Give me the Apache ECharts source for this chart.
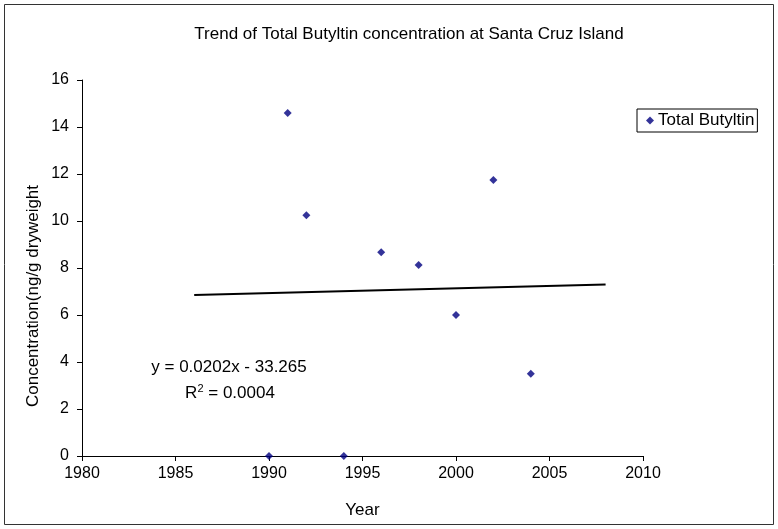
<!DOCTYPE html>
<html>
<head>
<meta charset="utf-8">
<script src="https://cdn.jsdelivr.net/npm/echarts@6/dist/echarts.min.js"></script>
<style>html,body{margin:0;padding:0;background:#fff}#c{width:778px;height:529px}</style>
</head>
<body>
<div id="c"></div>
<script>
const years = [1990, 1991, 1992, 1994, 1996, 1998, 2000, 2002, 2004];
const butyltin = [0, 14.6, 10.24, 0, 8.67, 8.13, 6.0, 11.74, 3.5];
const trendYears = [1986, 2008];
const trendValues = [6.85, 7.30];
const titleText = 'Trend of Total Butyltin concentration at Santa Cruz Island';
const seriesName = 'Total Butyltin';
const xName = 'Year';
const yName = 'Concentration(ng/g dryweight';
const eqLine1 = 'y = 0.0202x - 33.265';

const F = '"Liberation Sans", Arial, sans-serif';
const chart = echarts.init(document.getElementById('c'), null, {renderer: 'canvas'});
chart.setOption({
  animation: false,
  backgroundColor: '#fff',
  title: {
    text: titleText, left: 404, top: 21, textAlign: 'center',
    textStyle: {fontFamily: F, fontSize: 17, fontWeight: 'normal', color: '#000'}
  },
  grid: {left: 82, right: 135, top: 80, bottom: 73, containLabel: false},
  legend: {
    data: [{name: seriesName, icon: 'diamond'}],
    left: 637, top: 109,
    itemWidth: 8, itemHeight: 8, itemGap: 5,
    borderColor: '#000', borderWidth: 1, padding: [3, 3, 3, 9],
    textStyle: {fontFamily: F, fontSize: 17, color: '#000', padding: [0, 0, 0, -1]}
  },
  xAxis: {
    type: 'value', min: 1980, max: 2010, interval: 5,
    name: xName, nameLocation: 'middle', nameGap: 46,
    nameTextStyle: {fontFamily: F, fontSize: 17, color: '#000'},
    axisLine: {lineStyle: {color: '#000', width: 1}},
    axisTick: {length: 5, lineStyle: {color: '#000'}},
    axisLabel: {fontFamily: F, fontSize: 16, color: '#000', margin: 10,
      formatter: v => String(v)},
    splitLine: {show: false}
  },
  yAxis: {
    type: 'value', min: 0, max: 16, interval: 2,
    axisLine: {show: true, lineStyle: {color: '#000', width: 1}},
    axisTick: {show: true, length: 5, lineStyle: {color: '#000'}},
    axisLabel: {fontFamily: F, fontSize: 16, color: '#000', margin: 13},
    splitLine: {show: false}
  },
  series: [
    {
      name: seriesName, type: 'scatter', symbol: 'diamond', symbolSize: 8,
      itemStyle: {color: '#000080'},
      data: years.map((y, i) => [y, butyltin[i]]), z: 3
    },
    {
      name: 'trend', type: 'line', symbol: 'none', silent: true,
      lineStyle: {color: '#000', width: 2},
      data: trendYears.map((y, i) => [y, trendValues[i]]), z: 2
    }
  ],
  graphic: [
    {type: 'rect', shape: {x: 4.5, y: 4.5, width: 769, height: 520},
     style: {fill: 'none', stroke: '#333', lineWidth: 1}, silent: true},
    {type: 'text', x: 33, y: 296, rotation: Math.PI / 2,
     style: {text: yName, font: '17px ' + F, fill: '#000', align: 'center', verticalAlign: 'middle'}},
    {type: 'text', x: 229, y: 367,
     style: {text: eqLine1, font: '17px ' + F, fill: '#000', align: 'center', verticalAlign: 'middle'}},
    {type: 'text', x: 230, y: 393,
     style: {text: 'R{sup|2} = 0.0004', font: '17px ' + F, fill: '#000', align: 'center', verticalAlign: 'middle',
       rich: {sup: {fontSize: 11, fontFamily: F, verticalAlign: 'top', padding: [0, 0, 8, 0]}}}}
  ]
});
</script>
</body>
</html>
